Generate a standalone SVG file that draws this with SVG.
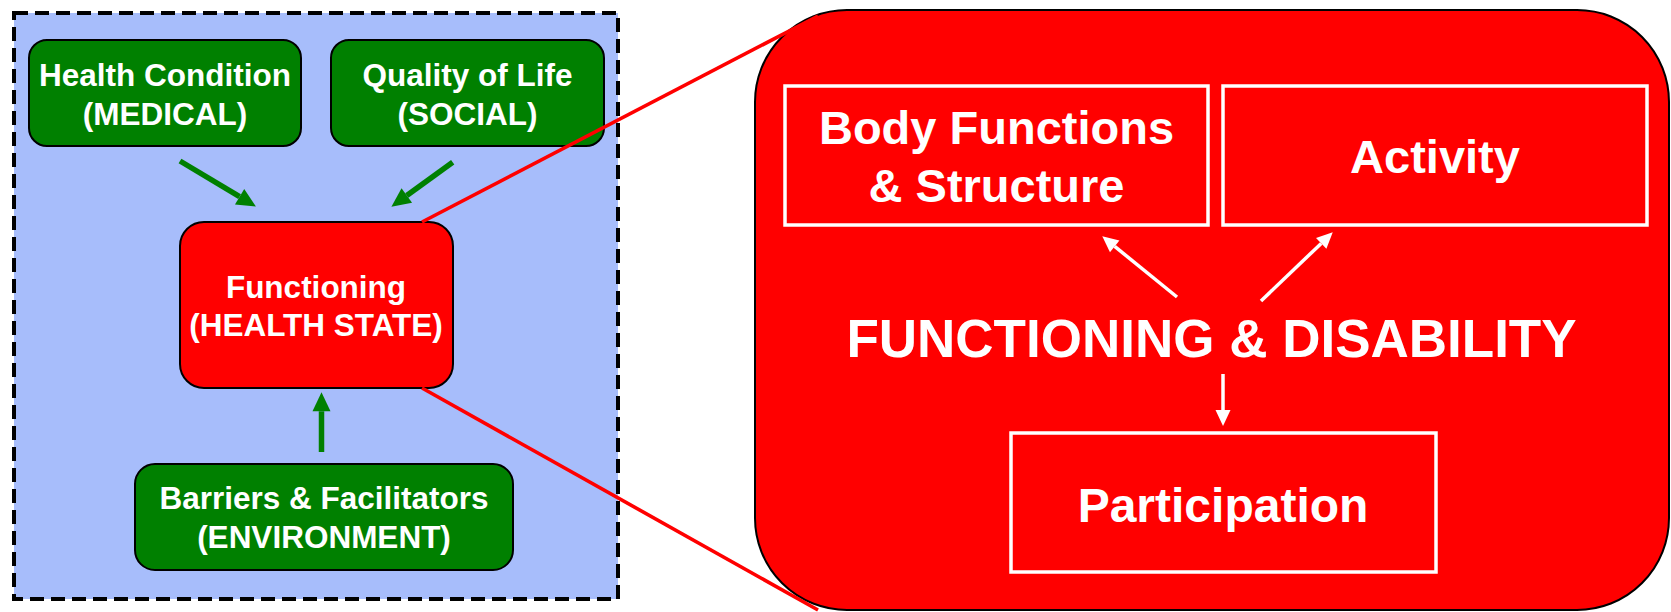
<svg xmlns="http://www.w3.org/2000/svg" width="1671" height="612" viewBox="0 0 1671 612">
<style>
.t{font-family:"Liberation Sans",Arial,sans-serif;font-weight:bold;fill:#ffffff;text-anchor:middle}
.sm{font-size:31.5px}
.gbox{fill:#008000;stroke:#000000;stroke-width:2}
.wbox{fill:#ff0000;stroke:#ffffff;stroke-width:3.5}
.garrow{stroke:#008000;stroke-width:5.5;fill:none}
.warrow{stroke:#ffffff;stroke-width:3.5;fill:none}
.redline{stroke:#ff0000;stroke-width:3.6;fill:none}
</style>
<defs>
<marker id="gh" markerUnits="userSpaceOnUse" markerWidth="19" markerHeight="18" refX="0" refY="9" orient="auto" overflow="visible">
<path d="M0,0 L19,9 L0,18 Z" fill="#008000"/>
</marker>
<marker id="wh" markerUnits="userSpaceOnUse" markerWidth="16" markerHeight="15" refX="0" refY="7.5" orient="auto" overflow="visible">
<path d="M0,0 L16,7.5 L0,15 Z" fill="#ffffff"/>
</marker>
</defs>
<rect width="1671" height="612" fill="#ffffff"/>
<g id="left-panel">
<rect x="14" y="13" width="604" height="586" fill="#a7bdfb" stroke="#000000" stroke-width="4" stroke-dasharray="14,7"/>
</g>
<g id="health-condition">
<rect class="gbox" x="29" y="40" width="272" height="106" rx="18"/>
<text class="t sm" x="165" y="86">Health Condition</text>
<text class="t sm" x="165" y="125">(MEDICAL)</text>
</g>
<g id="quality-of-life">
<rect class="gbox" x="331" y="40" width="273" height="106" rx="18"/>
<text class="t sm" x="467.5" y="86">Quality of Life</text>
<text class="t sm" x="467.5" y="125">(SOCIAL)</text>
</g>
<g id="functioning">
<rect x="180" y="222" width="273" height="166" rx="24" fill="#ff0000" stroke="#000000" stroke-width="2"/>
<text class="t sm" x="316" y="297.5">Functioning</text>
<text class="t sm" x="316" y="335.5">(HEALTH STATE)</text>
</g>
<g id="barriers">
<rect class="gbox" x="135" y="464" width="378" height="106" rx="20"/>
<text class="t sm" x="324" y="509">Barriers &amp; Facilitators</text>
<text class="t sm" x="324" y="548">(ENVIRONMENT)</text>
</g>
<g id="functioning-disability">
<rect x="755" y="10" width="914" height="600" rx="92" fill="#ff0000" stroke="#000000" stroke-width="2"/>
<text class="t" x="1211.5" y="357" font-size="53">FUNCTIONING &amp; DISABILITY</text>
</g>
<g id="body-functions">
<rect class="wbox" x="785" y="86" width="423" height="139"/>
<text class="t" x="996.5" y="143.5" font-size="47">Body Functions</text>
<text class="t" x="996.5" y="201.5" font-size="47">&amp; Structure</text>
</g>
<g id="activity">
<rect class="wbox" x="1223" y="86" width="424" height="139"/>
<text class="t" x="1435" y="173" font-size="47">Activity</text>
</g>
<g id="participation">
<rect class="wbox" x="1011" y="433" width="425" height="139"/>
<text class="t" x="1223" y="521.5" font-size="48">Participation</text>
</g>
<g id="connectors">
<line class="garrow" x1="180" y1="161" x2="239.6" y2="196.7" marker-end="url(#gh)"/>
<line class="garrow" x1="452.7" y1="162.3" x2="406.8" y2="195.5" marker-end="url(#gh)"/>
<line class="garrow" x1="321.5" y1="452" x2="321.5" y2="411.3" marker-end="url(#gh)"/>
<line class="warrow" x1="1177" y1="297" x2="1114.7" y2="246.4" marker-end="url(#wh)"/>
<line class="warrow" x1="1261" y1="301" x2="1321.2" y2="243.4" marker-end="url(#wh)"/>
<line class="warrow" x1="1223" y1="374" x2="1223" y2="410" marker-end="url(#wh)"/>
<line class="redline" x1="422" y1="222" x2="818" y2="16"/>
<line class="redline" x1="422" y1="388" x2="818" y2="610"/>
</g>
</svg>
